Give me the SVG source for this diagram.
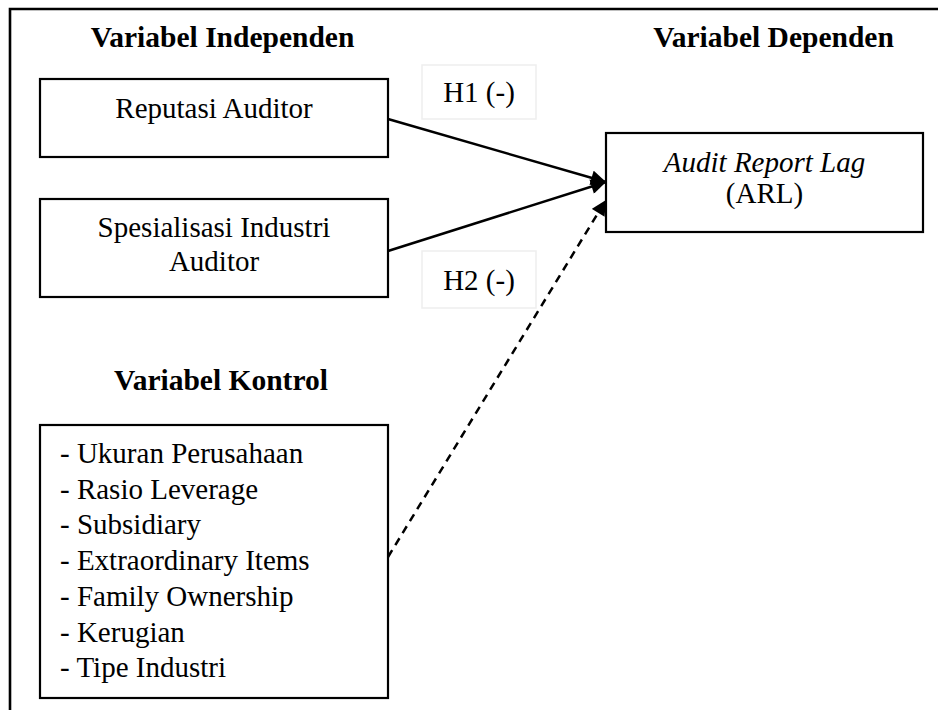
<svg xmlns="http://www.w3.org/2000/svg" width="938" height="710" viewBox="0 0 938 710">
  <style>
    .head { font-family: "Liberation Serif", "Times New Roman", serif; font-weight: bold; font-size: 29.5px; fill: #000; }
    .body { font-family: "Liberation Serif", "Times New Roman", serif; font-size: 29px; fill: #000; }
    .box { fill: #fff; stroke: #000; stroke-width: 2.2; }
    .lbl { fill: #fff; stroke: #eeeeee; stroke-width: 1.5; }
    .conn { stroke: #000; stroke-width: 2.5; fill: none; }
  </style>
  <defs>
    <marker id="arr" viewBox="0 0 10 10" refX="10" refY="5" markerWidth="16" markerHeight="15" markerUnits="userSpaceOnUse" orient="auto">
      <path d="M0,0 L10,5 L0,10 z" fill="#000"/>
    </marker>
  </defs>
  <rect width="938" height="710" fill="#fff"/>
  <!-- outer frame -->
  <path d="M10,720 L10,9 L945,9" fill="none" stroke="#000" stroke-width="2.6"/>

  <text class="head" x="222.5" y="47" text-anchor="middle">Variabel Independen</text>
  <text class="head" x="773.5" y="47" text-anchor="middle">Variabel Dependen</text>
  <text class="head" x="221" y="390" text-anchor="middle">Variabel Kontrol</text>

  <g id="lbl-h1">
    <rect class="lbl" x="422" y="65" width="114" height="54"/>
    <text class="body" x="479" y="102" text-anchor="middle">H1 (-)</text>
  </g>
  <g id="lbl-h2">
    <rect class="lbl" x="422" y="251" width="114" height="57"/>
    <text class="body" x="479" y="290" text-anchor="middle">H2 (-)</text>
  </g>

  <g id="connectors">
    <line class="conn" x1="388" y1="119" x2="606" y2="182" marker-end="url(#arr)"/>
    <line class="conn" x1="388" y1="251" x2="606" y2="182" marker-end="url(#arr)"/>
    <line class="conn" x1="388" y1="557" x2="606" y2="200" stroke-dasharray="8,6" marker-end="url(#arr)"/>
  </g>

  <g id="node-reputasi">
    <rect class="box" x="40" y="79" width="348" height="78"/>
    <text class="body" x="214" y="118" text-anchor="middle">Reputasi Auditor</text>
  </g>
  <g id="node-spesialisasi">
    <rect class="box" x="40" y="199" width="348" height="98"/>
    <text class="body" x="214" y="237" text-anchor="middle">Spesialisasi Industri</text>
    <text class="body" x="214" y="271" text-anchor="middle">Auditor</text>
  </g>
  <g id="node-arl">
    <rect class="box" x="606" y="133" width="317" height="99"/>
    <text class="body" x="764.5" y="172" text-anchor="middle" font-style="italic">Audit Report Lag</text>
    <text class="body" x="764.5" y="203" text-anchor="middle">(ARL)</text>
  </g>
  <g id="node-kontrol">
    <rect class="box" x="40" y="425" width="348" height="273"/>
    <text class="body" x="60" y="463">- Ukuran Perusahaan</text>
    <text class="body" x="60" y="498.7">- Rasio Leverage</text>
    <text class="body" x="60" y="534.4">- Subsidiary</text>
    <text class="body" x="60" y="570.1">- Extraordinary Items</text>
    <text class="body" x="60" y="605.8">- Family Ownership</text>
    <text class="body" x="60" y="641.5">- Kerugian</text>
    <text class="body" x="60" y="677.2">- Tipe Industri</text>
  </g>
</svg>
